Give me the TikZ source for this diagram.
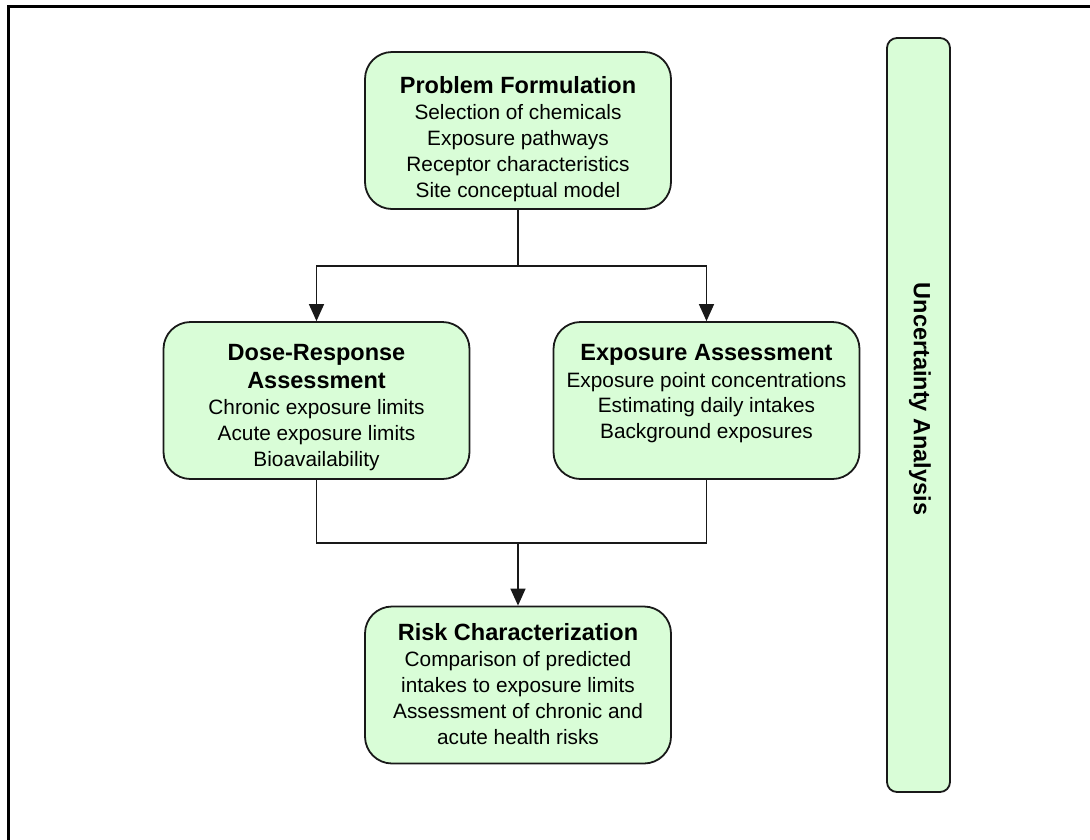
\documentclass[tikz,border=0pt]{standalone}
\usepackage{fontspec}
\setmainfont{Liberation Sans}
\usetikzlibrary{arrows.meta}
\definecolor{boxgreen}{RGB}{217,253,215}
\definecolor{edge}{RGB}{25,25,25}
\tikzset{
  stagebox/.style={draw=edge, line width=1.8pt, fill=boxgreen, rounded corners=27pt, inner sep=0pt, minimum width=306pt, minimum height=157pt},
  sidebox/.style={draw=edge, line width=1.8pt, fill=boxgreen, rounded corners=10pt, inner sep=0pt, minimum width=63pt, minimum height=754pt},
  txt/.style={align=center, inner sep=0pt, anchor=north, text=black, font=\fontsize{20.8}{25.7}\selectfont},
  ttl/.style={},
  conn/.style={draw=edge, line width=1.4pt},
  arr/.style={conn, -{Triangle[width=15pt,length=17pt]}}
}
\newcommand{\ttlfont}{\fontsize{23.5}{26}\selectfont\bfseries}
\begin{document}
\begin{tikzpicture}[x=1pt,y=-1pt]
\useasboundingbox (0,0) rectangle (1090,839);
% frame
\draw[line width=3pt, black] (1095,6) -- (8,6) -- (8,845);
% boxes
\node[stagebox] (pf) at (518,130.5) {};
\node[stagebox] (dr) at (316.5,400.5) {};
\node[stagebox] (ea) at (706.5,400.5) {};
\node[stagebox] (rc) at (518,685) {};
\node[sidebox] (ua) at (918.5,415) {};
% texts
\node[txt] (pft) at (518,76) {{\ttlfont Problem Formulation}\\[1pt]Selection of chemicals\\Exposure pathways\\Receptor characteristics\\Site conceptual model};
\node[txt] (drt) at (316.5,344) {{\ttlfont Dose-Response}\\[2pt]{\ttlfont Assessment}\\[1pt]Chronic exposure limits\\Acute exposure limits\\Bioavailability};
\node[txt] (eat) at (706.5,344) {{\ttlfont Exposure Assessment}\\[1pt]Exposure point concentrations\\Estimating daily intakes\\Background exposures};
\node[txt] (rct) at (518,623) {{\ttlfont Risk Characterization}\\[1pt]Comparison of predicted\\intakes to exposure limits\\Assessment of chronic and\\acute health risks};
\node[rotate=-90, inner sep=0pt, font=\ttlfont] (uat) at (920,399) {Uncertainty Analysis};
% connectors
\coordinate (split) at (518,266);
\coordinate (join) at (518,543);
\draw[conn] (pf.south) -- (split);
\draw[arr] (split) -| (dr.north);
\draw[arr] (split) -| (ea.north);
\draw[conn] (dr.south) |- (join);
\draw[conn] (ea.south) |- (join);
\draw[arr] (join) -- (rc.north);
\end{tikzpicture}
\end{document}
